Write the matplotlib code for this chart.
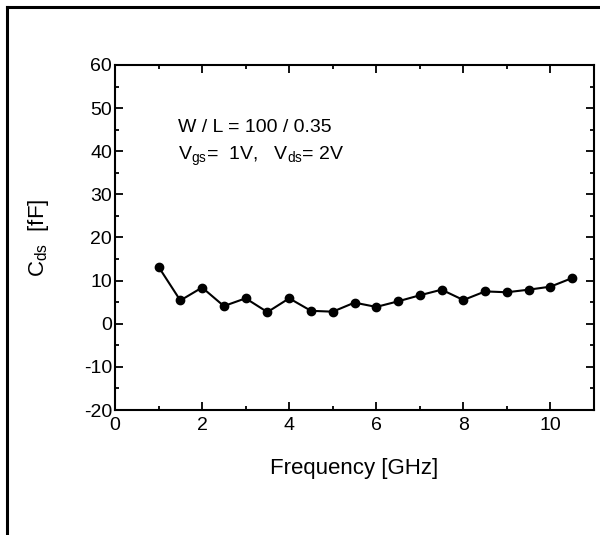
import numpy as np
import matplotlib.pyplot as plt
from matplotlib.lines import Line2D
from matplotlib.ticker import MultipleLocator

plt.rcParams.update({
    "font.family": ["Liberation Sans", "DejaVu Sans"],
    "font.size": 14,
    "axes.unicode_minus": False,
    "mathtext.fontset": "custom",
    "mathtext.rm": "Liberation Sans",
    "mathtext.it": "Liberation Sans",
})

# Cds vs frequency
freq = [1.0, 1.5, 2.0, 2.5, 3.0, 3.5, 4.0, 4.5, 5.0, 5.5,
        6.0, 6.5, 7.0, 7.5, 8.0, 8.5, 9.0, 9.5, 10.0, 10.5]
cds = [13.2, 5.4, 8.4, 4.1, 5.9, 2.7, 5.9, 3.0, 2.8, 4.9,
       3.9, 5.2, 6.6, 7.9, 5.5, 7.5, 7.3, 7.9, 8.6, 10.6]

fig = plt.figure(figsize=(6.0, 5.35), dpi=100)
ax = fig.add_axes([0.1917, 0.2336, 0.7983, 0.645])

ax.plot(freq, cds, color="black", lw=1.5, marker="o", markersize=6)

ax.set_xlim(0, 11)
ax.set_ylim(-20, 60)
ax.xaxis.set_major_locator(MultipleLocator(2))
ax.xaxis.set_minor_locator(MultipleLocator(1))
ax.yaxis.set_major_locator(MultipleLocator(10))
ax.yaxis.set_minor_locator(MultipleLocator(5))
ax.tick_params(which="both", direction="in", top=True, right=True, width=1.3)
ax.tick_params(which="major", length=6, labelsize=14)
ax.tick_params(which="minor", length=3)
ax.tick_params(axis="x", pad=5)
ax.tick_params(axis="y", pad=2)
for sp in ax.spines.values():
    sp.set_linewidth(1.5)

ax.set_xlabel("Frequency [GHz]", fontsize=16, labelpad=17)
ax.set_ylabel(r"C$_{\rm ds}$  [fF]", fontsize=16, labelpad=24)

ax.text(1.45, 45.5, "W / L = 100 / 0.35", fontsize=14, va="center")
ax.text(1.45, 38.8, r"V$_{\rm gs}$=  1V,   V$_{\rm ds}$= 2V", fontsize=14, va="center")

# frame around the figure (left and top edges visible)
fig.add_artist(Line2D([0.012, 0.012], [0.0, 0.987], color="black", lw=2.2))
fig.add_artist(Line2D([0.012, 1.0], [0.987, 0.987], color="black", lw=2.2))

fig.savefig("out.png", dpi=100)
